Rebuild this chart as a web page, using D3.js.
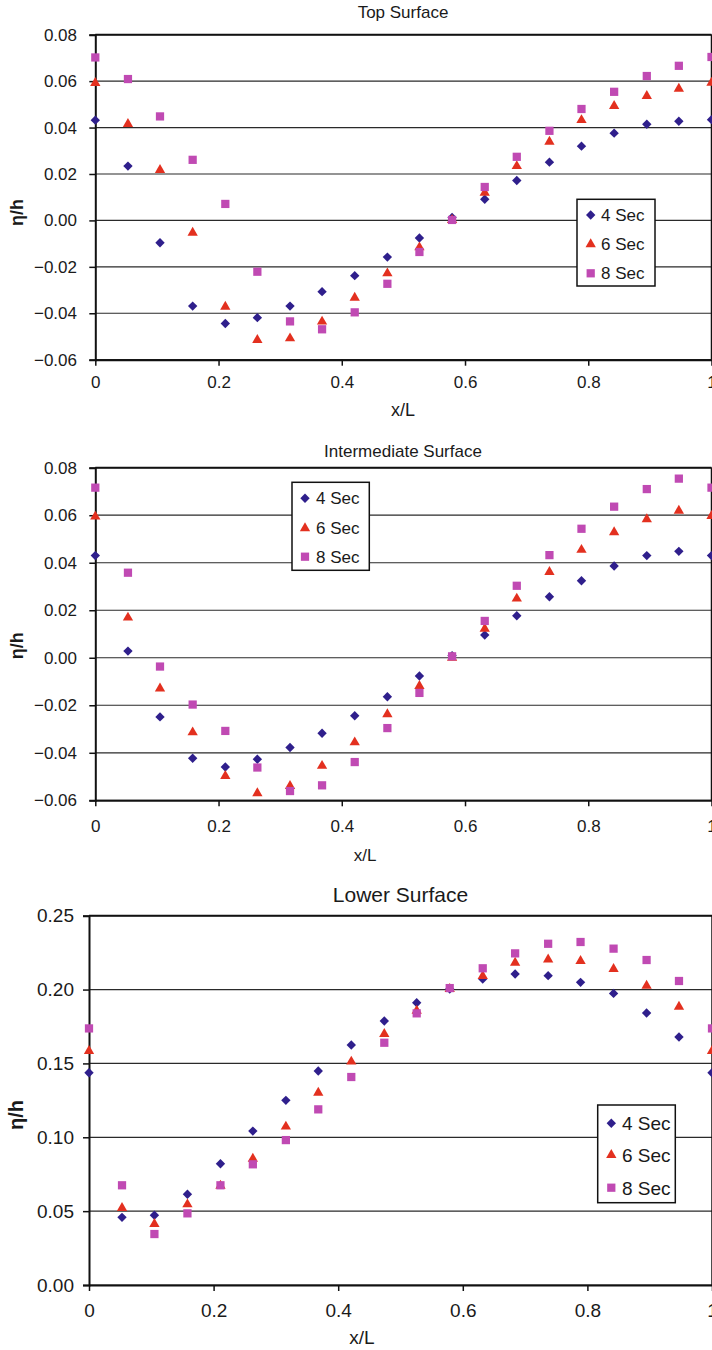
<!DOCTYPE html>
<html><head><meta charset="utf-8">
<script src="https://cdn.jsdelivr.net/npm/d3@7"></script>
<style>
html,body{margin:0;padding:0;background:#fff;}
svg{display:block;}
text{font-family:"Liberation Sans",Arial,sans-serif;fill:#1a1a1a;}
</style></head>
<body>
<script>
// ---- data ----
const xPos = [0,0.053,0.105,0.158,0.211,0.263,0.316,0.368,0.421,0.474,0.526,0.579,0.632,0.684,0.737,0.789,0.842,0.895,0.947,1.0];
const seriesNames = ["4 Sec","6 Sec","8 Sec"];

const topSec4 = [0.0432,0.0234,-0.0096,-0.0369,-0.0444,-0.0419,-0.0369,-0.0307,-0.0238,-0.0158,-0.0076,0.0013,0.0091,0.0172,0.0251,0.0320,0.0376,0.0414,0.0427,0.0434];
const topSec6 = [0.0592,0.0415,0.0217,-0.0053,-0.0372,-0.0515,-0.0508,-0.0436,-0.0333,-0.0228,-0.0116,0.0002,0.0119,0.0234,0.0339,0.0432,0.0493,0.0536,0.0567,0.0593];
const topSec8 = [0.0702,0.0609,0.0448,0.0261,0.0071,-0.0221,-0.0435,-0.0469,-0.0396,-0.0273,-0.0136,0.0002,0.0144,0.0274,0.0386,0.0480,0.0554,0.0622,0.0666,0.0704];

const midSec4 = [0.0430,0.0028,-0.0249,-0.0423,-0.0460,-0.0427,-0.0378,-0.0318,-0.0244,-0.0164,-0.0077,0.0009,0.0096,0.0177,0.0257,0.0324,0.0386,0.0430,0.0448,0.0430];
const midSec6 = [0.0594,0.0169,-0.0129,-0.0314,-0.0498,-0.0570,-0.0540,-0.0455,-0.0356,-0.0238,-0.0119,0.0000,0.0122,0.0249,0.0361,0.0454,0.0528,0.0583,0.0619,0.0597];
const midSec8 = [0.0716,0.0358,-0.0037,-0.0197,-0.0308,-0.0462,-0.0561,-0.0537,-0.0439,-0.0296,-0.0148,0.0006,0.0155,0.0303,0.0432,0.0543,0.0636,0.0710,0.0754,0.0716];

const lowSec4 = [0.1437,0.0458,0.0472,0.0614,0.0821,0.1042,0.1250,0.1449,0.1625,0.1787,0.1911,0.2004,0.2071,0.2105,0.2094,0.2049,0.1974,0.1841,0.1679,0.1437];
const lowSec6 = [0.1584,0.0521,0.0413,0.0546,0.0672,0.0855,0.1072,0.1302,0.1512,0.1699,0.1857,0.2004,0.2092,0.2182,0.2204,0.2193,0.2139,0.2026,0.1884,0.1584];
const lowSec8 = [0.1737,0.0675,0.0345,0.0485,0.0675,0.0817,0.0981,0.1189,0.1408,0.1640,0.1839,0.2010,0.2144,0.2245,0.2310,0.2322,0.2277,0.2200,0.2058,0.1737];

const titles = ["Top Surface","Intermediate Surface","Lower Surface"];
const xTicks = [0,0.2,0.4,0.6,0.8,1];
const xTickLabels = ["0","0.2","0.4","0.6","0.8","1"];
const yTicksSmall = [-0.06,-0.04,-0.02,0,0.02,0.04,0.06,0.08];
const yTicksLow = [0,0.05,0.10,0.15,0.20,0.25];
const xLabel = "x/L";
const yLabel = "η/h";

// ---- styles / layout ----
const colors = ["#2f1f8c","#e3301f","#c04ab3"];
const shapes = [d3.symbolSquare, d3.symbolTriangle, d3.symbolSquare];
const sizes = [44, 46, 68];
const rot = [45, 0, 0];

const panels = [
  {data:[topSec4,topSec6,topSec8], yDom:[-0.06,0.08], yTicks:yTicksSmall, fmt:d3.format(".2f"),
   L:95.3, R:711.5, T:34.7, B:359.7, fs:17, titleFs:17, titleX:403, titleY:17.5,
   xLabX:403, xLabY:416, xLabFs:18, yLabX:16.7, yLabY:212.5, yLabFs:18, xtY:388.3, ytR:77,
   leg:{x:577,y:199.3,w:78,h:86.7,items:[215,244.3,273.3],mx:590.7,tx:601,fs:17}},
  {data:[midSec4,midSec6,midSec8], yDom:[-0.06,0.08], yTicks:yTicksSmall, fmt:d3.format(".2f"),
   L:95.3, R:711.5, T:467.7, B:800.3, fs:17, titleFs:17, titleX:403, titleY:456.7,
   xLabX:365, xLabY:861, xLabFs:17, yLabX:16.7, yLabY:645.8, yLabFs:18, xtY:832.3, ytR:77,
   leg:{x:292,y:482.3,w:77.3,h:88,items:[498.3,528.3,556.7],mx:305,tx:316,fs:17}},
  {data:[lowSec4,lowSec6,lowSec8], yDom:[0,0.25], yTicks:yTicksLow, fmt:d3.format(".2f"),
   L:89, R:712, T:915.7, B:1285, fs:19, titleFs:21, titleX:400.5, titleY:902.3,
   xLabX:362, xLabY:1343.5, xLabFs:19, yLabX:16.3, yLabY:1115, yLabFs:20, xtY:1316.7, ytR:74,
   leg:{x:597.7,y:1105,w:77.6,h:97.7,items:[1123.3,1155,1187.7],mx:611.3,tx:622,fs:19}}
];

const svg = d3.select("body").append("svg").attr("width",712).attr("height",1350);

panels.forEach((p,pi)=>{
  const g = svg.append("g");
  const x = d3.scaleLinear().domain([0,1]).range([p.L, p.L + (p.R - p.L)]);
  const y = d3.scaleLinear().domain(p.yDom).range([p.B, p.T]);

  // gridlines
  g.selectAll(".grid").data(p.yTicks).enter().append("line")
    .attr("x1",p.L).attr("x2",p.R).attr("y1",d=>y(d)).attr("y2",d=>y(d))
    .attr("stroke","#2a2a2a").attr("stroke-width",1.2);

  // frame top & right
  g.append("line").attr("x1",p.L).attr("x2",p.R).attr("y1",p.T).attr("y2",p.T).attr("stroke","#111").attr("stroke-width",2);
  g.append("line").attr("x1",p.R).attr("x2",p.R).attr("y1",p.T).attr("y2",p.B).attr("stroke","#111").attr("stroke-width",1.5);

  // y axis
  const yAxis = d3.axisLeft(y).tickValues(p.yTicks).tickFormat(p.fmt).tickSize(6).tickPadding(p.L - p.ytR - 6);
  const ya = g.append("g").attr("transform",`translate(${p.L},0)`).call(yAxis);
  ya.select(".domain").attr("stroke","#111").attr("stroke-width",2);
  ya.selectAll(".tick line").attr("stroke","#111").attr("stroke-width",1.5);
  ya.selectAll(".tick text").attr("font-size",p.fs).attr("font-family","Liberation Sans, Arial, sans-serif").attr("fill","#1a1a1a");

  // x axis
  const xAxis = d3.axisBottom(x).tickValues(xTicks).tickFormat((d,i)=>xTickLabels[i]).tickSize(6).tickSizeOuter(0);
  const xa = g.append("g").attr("transform",`translate(0,${p.B})`).call(xAxis);
  xa.select(".domain").attr("stroke","#111").attr("stroke-width",2);
  xa.selectAll(".tick line").attr("stroke","#111").attr("stroke-width",1.5);
  xa.selectAll(".tick text").attr("font-size",p.fs).attr("font-family","Liberation Sans, Arial, sans-serif")
    .attr("fill","#1a1a1a").attr("dy",null).attr("y",p.xtY - p.B);

  // markers
  p.data.forEach((arr,si)=>{
    const sym = d3.symbol().type(shapes[si]).size(sizes[si]);
    g.selectAll(".m"+si).data(arr).enter().append("path")
      .attr("d",sym)
      .attr("transform",(d,i)=>`translate(${x(xPos[i])},${y(d)}) rotate(${rot[si]})`)
      .attr("fill",colors[si]);
  });

  // title
  g.append("text").attr("x",p.titleX).attr("y",p.titleY).attr("text-anchor","middle")
    .attr("font-size",p.titleFs).text(titles[pi]);
  // x label
  g.append("text").attr("x",p.xLabX).attr("y",p.xLabY).attr("text-anchor","middle")
    .attr("font-size",p.xLabFs).text(xLabel);
  // y label
  g.append("text").attr("transform",`translate(${p.yLabX},${p.yLabY}) rotate(-90)`)
    .attr("text-anchor","middle").attr("dy","0.35em").attr("font-weight","bold")
    .attr("font-size",p.yLabFs).text(yLabel);

  // legend
  const lg = g.append("g");
  lg.append("rect").attr("x",p.leg.x).attr("y",p.leg.y).attr("width",p.leg.w).attr("height",p.leg.h)
    .attr("fill","#fff").attr("stroke","#111").attr("stroke-width",1.5);
  seriesNames.forEach((nm,si)=>{
    const sym = d3.symbol().type(shapes[si]).size(sizes[si]);
    lg.append("path").attr("d",sym)
      .attr("transform",`translate(${p.leg.mx},${p.leg.items[si]}) rotate(${rot[si]})`)
      .attr("fill",colors[si]);
    lg.append("text").attr("x",p.leg.tx).attr("y",p.leg.items[si]).attr("dy","0.36em")
      .attr("font-size",p.leg.fs).text(nm);
  });
});
</script>
</body></html>
